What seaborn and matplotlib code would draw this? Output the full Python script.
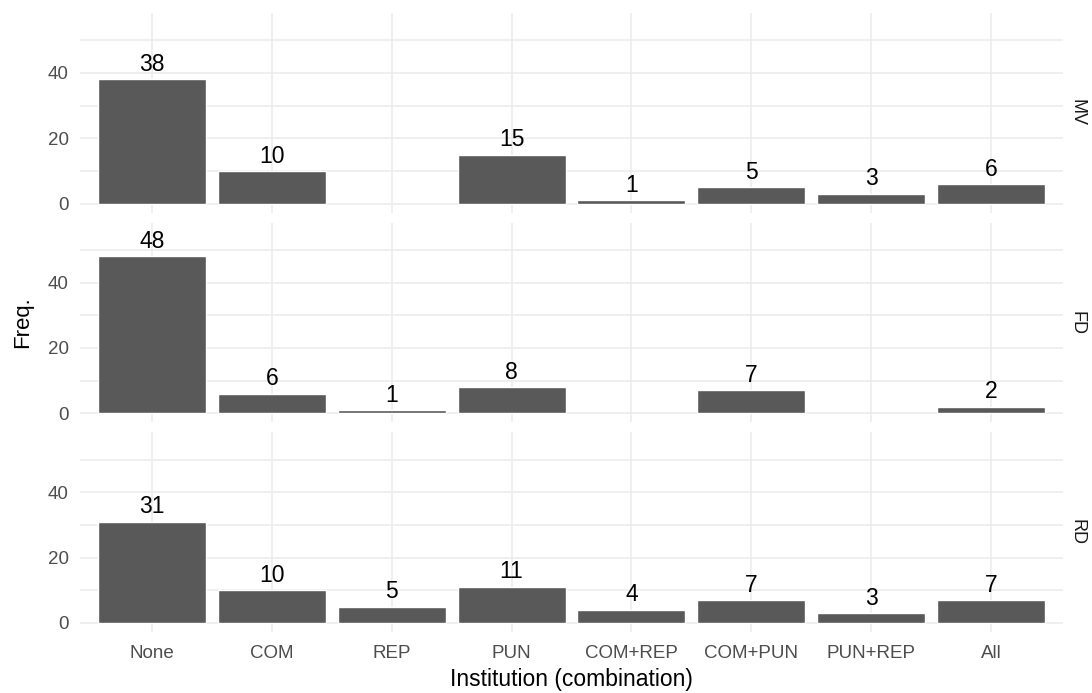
import matplotlib
matplotlib.use("Agg")
import matplotlib.pyplot as plt
import seaborn as sns
import pandas as pd
import numpy as np

# data
categories = ["None", "COM", "REP", "PUN", "COM+REP", "COM+PUN", "PUN+REP", "All"]
panels = ["MV", "FD", "RD"]
mv_cats = ["None", "COM", "PUN", "COM+REP", "COM+PUN", "PUN+REP", "All"]
mv_freq = [38, 10, 15, 1, 5, 3, 6]
fd_cats = ["None", "COM", "REP", "PUN", "COM+PUN", "All"]
fd_freq = [48, 6, 1, 8, 7, 2]
rd_cats = ["None", "COM", "REP", "PUN", "COM+REP", "COM+PUN", "PUN+REP", "All"]
rd_freq = [31, 10, 5, 11, 4, 7, 3, 7]

df = pd.concat([
    pd.DataFrame({"panel": "MV", "inst": mv_cats, "freq": mv_freq}),
    pd.DataFrame({"panel": "FD", "inst": fd_cats, "freq": fd_freq}),
    pd.DataFrame({"panel": "RD", "inst": rd_cats, "freq": rd_freq}),
])

sns.set_style("white")
plt.rcParams["font.family"] = ["Liberation Sans", "DejaVu Sans"]

fig, axes = plt.subplots(3, 1, figsize=(10.92, 6.93), dpi=100, sharex=True)
fig.subplots_adjust(left=0.0733, right=0.9734, top=0.981, bottom=0.088, hspace=0.05)

grid = "#EBEBEB"
for ax, p in zip(axes, panels):
    sub = df[df["panel"] == p]
    sns.barplot(data=sub, x="inst", y="freq", order=categories, color="#595959",
                width=0.9, saturation=1, ax=ax, zorder=3)
    for _, r in sub.iterrows():
        ax.annotate(str(r["freq"]), (categories.index(r["inst"]), r["freq"]),
                    xytext=(0, 2.5), textcoords="offset points", ha="center", va="bottom",
                    fontsize=16.5, color="black", zorder=4)
    ax.set_xlim(-0.6, 7.6)
    ax.set_ylim(-2.8, 58.3)
    ax.set_yticks([0, 20, 40])
    ax.set_yticks([10, 30, 50], minor=True)
    ax.grid(True, which="major", color=grid, linewidth=1.1, zorder=0)
    ax.grid(True, which="minor", axis="y", color=grid, linewidth=1.1, zorder=0)
    for s in ax.spines.values():
        s.set_visible(False)
    ax.tick_params(axis="both", which="both", length=0, labelsize=13.5, colors="#4D4D4D")
    ax.tick_params(axis="y", pad=8)
    ax.tick_params(axis="x", pad=9)
    ax.set_xlabel("")
    ax.set_ylabel("")
    ax.text(1.0145, 0.5, p, transform=ax.transAxes, rotation=270, ha="center", va="center",
            fontsize=13, color="#1A1A1A")

axes[2].set_xlabel("Institution (combination)", fontsize=16.5, color="black", labelpad=5)
fig.text(0.021, (0.981 + 0.088) / 2, "Freq.", rotation=90, ha="center", va="center",
         fontsize=16, color="black")

fig.savefig("out.png", dpi=100, facecolor="white")
